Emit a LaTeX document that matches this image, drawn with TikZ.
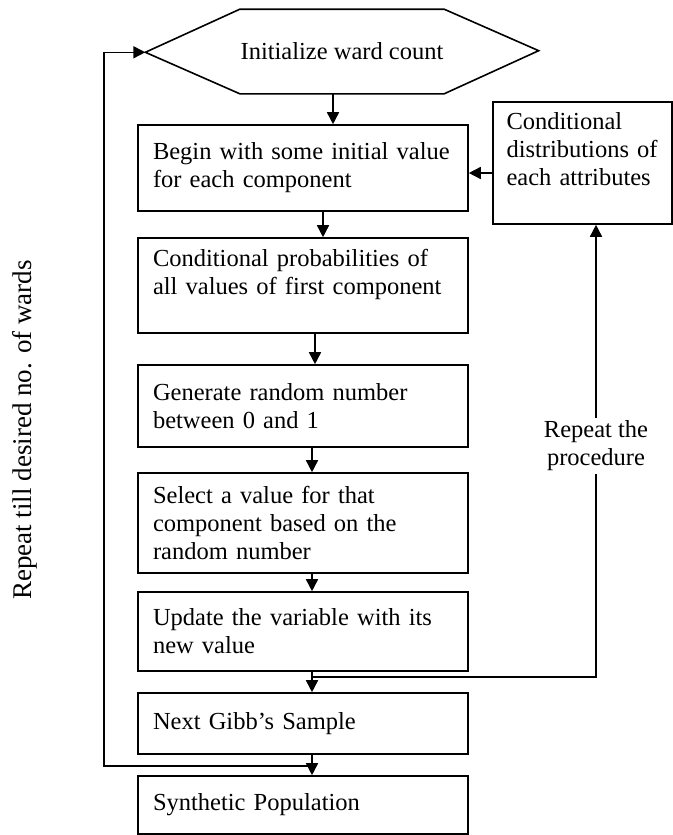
\documentclass[tikz,border=0pt]{standalone}
\usepackage{fontspec}
\setmainfont{Liberation Serif}
\usetikzlibrary{arrows.meta}
\begin{document}
\begin{tikzpicture}[x=0.5pt,y=-0.5pt,line width=0.8pt,
    box/.style={draw, rectangle, minimum width=165pt, text width=150pt, inner xsep=7.5pt, inner ysep=0pt, align=left, font=\fontsize{12.25}{14}\selectfont},
    hexa/.style={rectangle, minimum width=95pt, minimum height=41.5pt, inner sep=0pt, font=\fontsize{12.25}{14}\selectfont},
    arr/.style={-{Triangle[length=6pt,width=6pt]}}
]
\useasboundingbox (0,0) rectangle (673,835);
\node[hexa] (init) at (342,51.5) {Initialize ward count};
\draw (init.north west) -- (init.north east) -- ++(47.25pt,-20.75pt) coordinate (initR)
  -- (init.south east) -- (init.south west) -- ++(-47.25pt,20.75pt) coordinate (initL) -- cycle;
\node[box, minimum height=43pt] (begin) at (303,168) {Begin with some initial value\\for each component};
\node[box, minimum height=47.5pt] (prob) at (303,285.5) {Conditional probabilities of\\all values of first component\par\hbox{}};
\node[box, minimum height=41pt] (gen) at (303,406) {Generate random number\\between 0 and 1};
\node[box, minimum height=50pt] (sel) at (303,523) {Select a value for that\\component based on the\\random number};
\node[box, minimum height=39.5pt] (upd) at (303,631.5) {Update the variable with its\\new value};
\node[box, minimum height=30.5pt] (next) at (303,723.5) {Next Gibb's Sample};
\node[box, minimum height=29pt] (synth) at (303,805) {Synthetic Population};
\node[box, minimum width=89.5pt, text width=76pt, inner xsep=6.75pt, minimum height=61pt] (cond) at (582.5,163) {Conditional\\distributions of\\each attributes\par\hbox{}};
\node[align=center, inner sep=1pt, font=\fontsize{12.25}{14}\selectfont] (rep) at (596,446) {Repeat the\\procedure};
\node[rotate=90, font=\fontsize{13.5}{16}\selectfont] (wards) at (25,430) {Repeat till desired no. of wards};

\draw[arr] ([xshift=15pt]begin.north |- init.south) -- ([xshift=15pt]begin.north);
\draw[arr] ([xshift=10pt]begin.south) -- ([xshift=10pt]prob.north);
\draw[arr] ([xshift=6pt]prob.south) -- ([xshift=6pt]gen.north);
\draw[arr] ([xshift=4.5pt]gen.south) -- ([xshift=4.5pt]sel.north);
\draw[arr] ([xshift=4.5pt]sel.south) -- ([xshift=4.5pt]upd.north);
\draw[arr] ([xshift=4.5pt]upd.south) -- ([xshift=4.5pt]next.north);
\draw[arr] ([xshift=4.5pt]next.south) -- ([xshift=4.5pt]synth.north);
\draw[arr] ([yshift=-5pt]cond.west) -- ([yshift=-5pt]cond.west -| begin.east);

\coordinate (j1) at (312,677);
\coordinate (j2) at (312,766);
\coordinate (lft) at (104,766);
\draw (j1) -| (rep.south);
\draw[arr] (rep.north) -- (rep.north |- cond.south);
\draw[arr] (j2) -- (lft) |- (initL);
\end{tikzpicture}
\end{document}
